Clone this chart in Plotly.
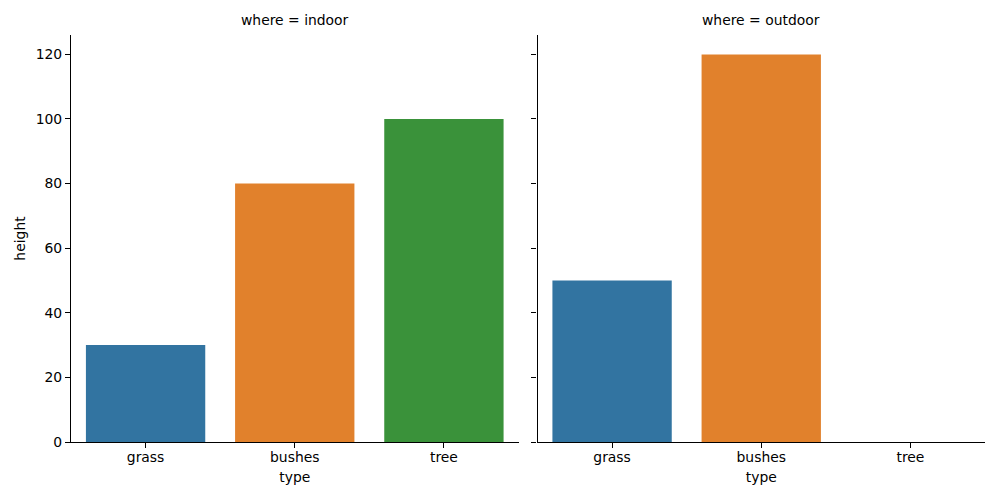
import plotly.graph_objects as go
from plotly.subplots import make_subplots

categories = ["grass", "bushes", "tree"]
indoor_height = [30, 80, 100]
outdoor_height = [50, 120, 0]
panels = ["indoor", "outdoor"]
colors = ["#3274a1", "#e1812c", "#3a923a"]

FONT = "DejaVu Sans"
FS = 13.9

# page body has an 8px margin, so the figure is shrunk by that much
fig = make_subplots(rows=1, cols=2, shared_yaxes=True, horizontal_spacing=19 / 914)

for col, vals in enumerate([indoor_height, outdoor_height], start=1):
    fig.add_trace(go.Bar(
        x=categories, y=vals,
        marker=dict(color=colors, line_width=0),
        width=0.8, showlegend=False,
    ), row=1, col=col)

axis_style = dict(
    showline=True, linecolor="black", linewidth=1.1,
    ticks="outside", ticklen=5, tickwidth=1.1, tickcolor="black",
    showgrid=False, zeroline=False,
    tickfont=dict(family=FONT, size=FS, color="black"),
)
fig.update_xaxes(range=[-0.5, 2.5], ticklabelstandoff=-3, **axis_style)
fig.update_yaxes(range=[0, 126], tickvals=[0, 20, 40, 60, 80, 100, 120], **axis_style)
fig.update_xaxes(title=dict(text="type", font=dict(family=FONT, size=FS, color="black"), standoff=8))
fig.update_yaxes(title=dict(text="height", font=dict(family=FONT, size=FS, color="black"), standoff=6),
                 row=1, col=1)
fig.update_yaxes(showticklabels=False, row=1, col=2)

for i, p in enumerate(panels):
    dom = fig.layout["xaxis" if i == 0 else "xaxis2"].domain
    fig.add_annotation(
        text=f"where = {p}", x=(dom[0] + dom[1]) / 2, y=1, xref="paper", yref="paper",
        xanchor="center", yanchor="bottom", yshift=5, showarrow=False,
        font=dict(family=FONT, size=FS, color="black"),
    )

fig.update_layout(
    width=992, height=492,
    paper_bgcolor="white", plot_bgcolor="white",
    margin=dict(l=63, r=15, t=27, b=58),
    font=dict(family=FONT, size=FS, color="black"),
)

fig.write_html("out.html")
